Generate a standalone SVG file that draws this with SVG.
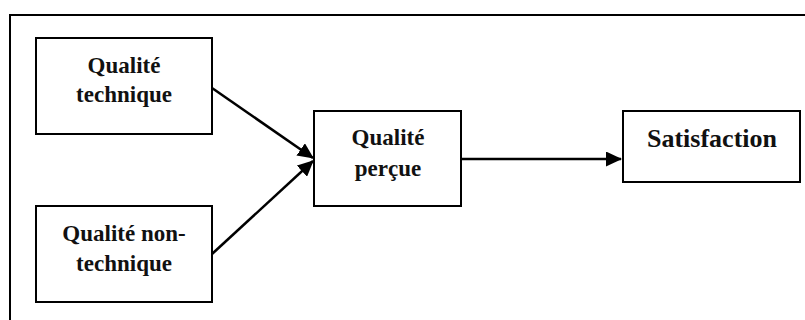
<svg xmlns="http://www.w3.org/2000/svg" width="805" height="320" viewBox="0 0 805 320">
<style>
.box{fill:#fff;stroke:#000;stroke-width:2}
.t{font-family:"Liberation Serif","Times New Roman",serif;font-weight:bold;font-size:23px;text-anchor:middle;fill:#111}
.big{font-size:26px}
.c{stroke:#000;stroke-width:2.5;fill:none;marker-end:url(#ah)}
</style>
<defs>
<marker id="ah" markerWidth="16" markerHeight="15" refX="15" refY="7.5" orient="auto" markerUnits="userSpaceOnUse">
<path d="M0,0 L16,7.5 L0,15 Z" fill="#000"/>
</marker>
</defs>
<rect x="10" y="15" width="800" height="320" fill="#fff" stroke="#000" stroke-width="2"/>
<g id="connectors">
<line class="c" x1="212" y1="88" x2="313" y2="158"/>
<line class="c" x1="212" y1="254" x2="313" y2="161"/>
<line class="c" x1="461" y1="159" x2="621" y2="159"/>
</g>
<g id="qualite-technique">
<rect class="box" x="36" y="38" width="176" height="96"/>
<text class="t" x="124" y="73">Qualité</text>
<text class="t" x="124" y="102">technique</text>
</g>
<g id="qualite-non-technique">
<rect class="box" x="36" y="206" width="176" height="96"/>
<text class="t" x="124" y="241">Qualité non-</text>
<text class="t" x="124" y="271">technique</text>
</g>
<g id="qualite-percue">
<rect class="box" x="314" y="111" width="147" height="95"/>
<text class="t" x="388" y="145">Qualité</text>
<text class="t" x="388" y="176">perçue</text>
</g>
<g id="satisfaction">
<rect class="box" x="623" y="111" width="177" height="71"/>
<text class="t big" x="712" y="147">Satisfaction</text>
</g>
</svg>
